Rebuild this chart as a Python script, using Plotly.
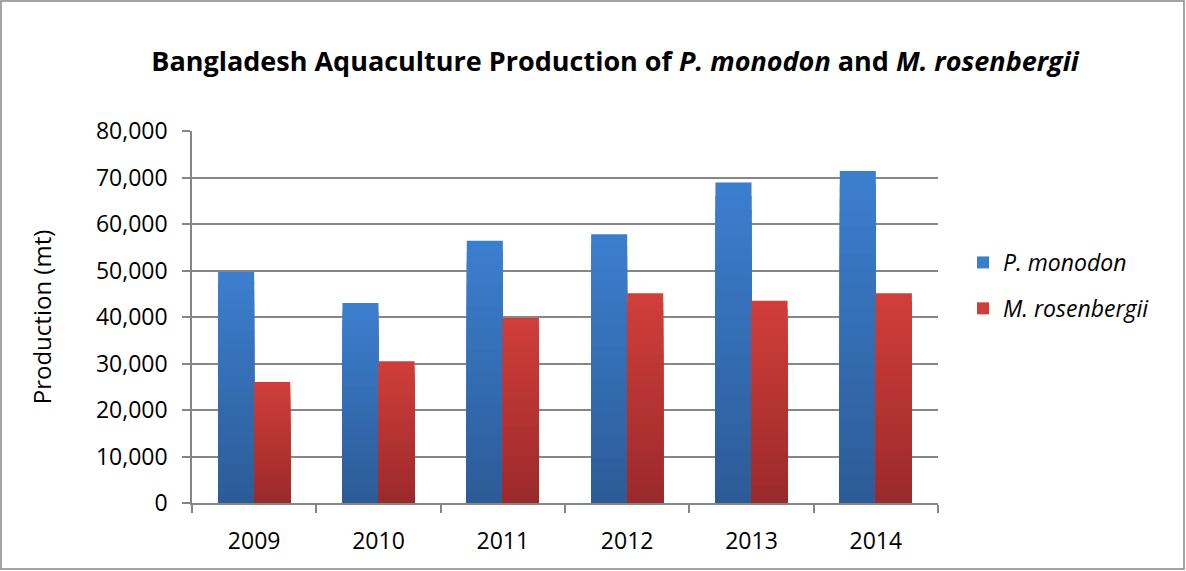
import plotly.graph_objects as go

# Production data (metric tonnes)
years = ["2009", "2010", "2011", "2012", "2013", "2014"]
monodon = [49700, 43000, 56400, 57800, 68900, 71400]
rosenbergii = [26000, 30500, 39800, 45100, 43500, 45100]
y_ticks = [0, 10000, 20000, 30000, 40000, 50000, 60000, 70000, 80000]

FONT = "Open Sans"
W, H = 1186, 571
ML, MR, MT, MB = 192, 248, 131, 68

BAR_W = 0.29
STEPS = 24


def mix(c1, c2, t):
    return "rgb(%d,%d,%d)" % tuple(round(a + (b - a) * t) for a, b in zip(c1, c2))


def gradient_bars(fig, values, name, top, bottom, offset):
    # Stacked overlay of shrinking bars gives a vertical light-to-dark fill
    for i in range(STEPS):
        frac = 1 - i / STEPS
        fig.add_trace(go.Bar(
            x=years, y=[v * frac for v in values],
            name=name, legendgroup=name, showlegend=(i == 0),
            marker=dict(color=mix(top, bottom, i / (STEPS - 1)), line=dict(width=0)),
            width=BAR_W, offset=offset,
            hoverinfo="skip" if i else "x+y+name",
        ))


fig = go.Figure()
gradient_bars(fig, monodon, "<i>P. monodon</i>", (60, 126, 206), (44, 92, 152), -BAR_W)
gradient_bars(fig, rosenbergii, "<i>M. rosenbergii</i>", (208, 62, 58), (156, 42, 42), 0)

pw = W - ML - MR
ph = H - MT - MB

fig.update_layout(
    width=W, height=H,
    margin=dict(l=ML, r=MR, t=MT, b=MB),
    paper_bgcolor="white", plot_bgcolor="white",
    barmode="overlay",
    font=dict(family=FONT, color="black"),
    title=dict(
        text="<b>Bangladesh Aquaculture Production of <i>P. monodon</i> and <i>M. rosenbergii</i></b>",
        x=615 / W, xref="container", xanchor="center",
        y=1 - 62 / H, yref="container", yanchor="middle",
        font=dict(family=FONT, size=27, color="black"),
    ),
    xaxis=dict(
        type="category", range=[-0.5, 5.5],
        showline=True, linecolor="#868686", linewidth=1.5,
        ticks="outside", tickson="boundaries", ticklen=8, tickcolor="#868686", tickwidth=1.5,
        showgrid=False, tickfont=dict(size=23), ticklabelstandoff=17,
    ),
    yaxis=dict(
        range=[0, 80000], tickvals=y_ticks, tickformat=",d",
        showline=True, linecolor="#868686", linewidth=1.5,
        ticks="outside", ticklen=8, tickcolor="#868686", tickwidth=1.5,
        showgrid=True, gridcolor="#868686", gridwidth=1.5,
        zeroline=False, tickfont=dict(size=23), ticklabelstandoff=10,
        title=dict(text="Production (mt)", font=dict(size=24), standoff=38),
    ),
    legend=dict(
        x=(963 - ML) / pw, xanchor="left",
        y=(H - MB - 285.5) / ph, yanchor="middle",
        font=dict(size=23), traceorder="grouped", tracegroupgap=13,
        bgcolor="rgba(0,0,0,0)",
    ),
    bargap=0.42,
)

# Chart border around the whole figure
fig.add_shape(
    type="rect", xref="paper", yref="paper",
    x0=-(ML - 1) / pw, x1=1 + (MR - 2) / pw,
    y0=-(MB - 2) / ph, y1=1 + (MT - 1) / ph,
    line=dict(color="#868686", width=1.5), fillcolor="rgba(0,0,0,0)", layer="above",
)

fig.write_html("out.html")
